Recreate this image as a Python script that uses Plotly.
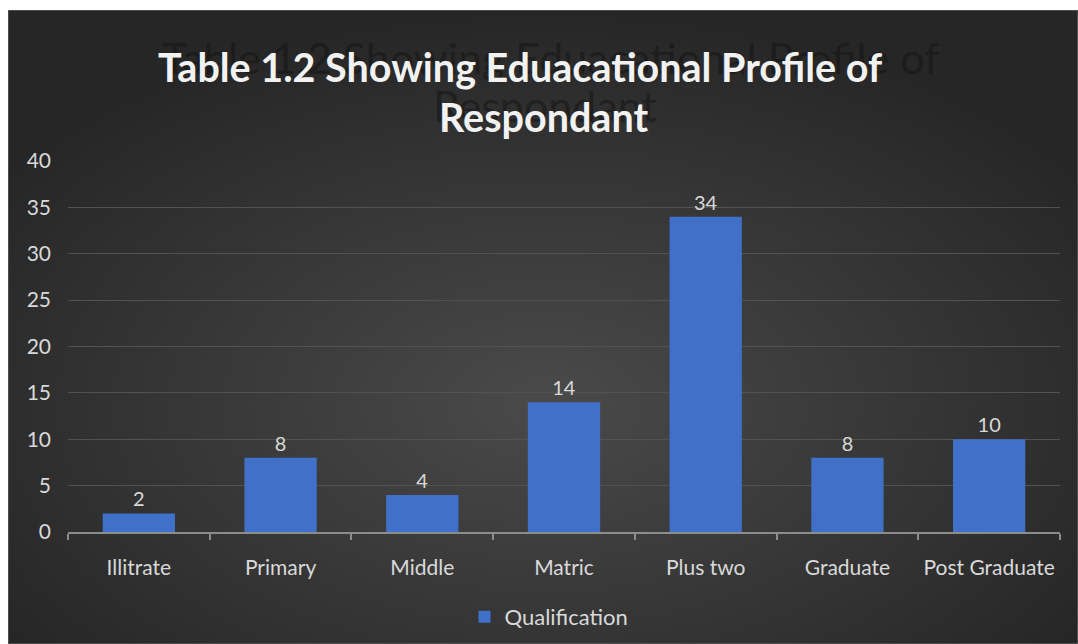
import base64
import plotly.graph_objects as go

categories = ["Illitrate", "Primary", "Middle", "Matric", "Plus two", "Graduate", "Post Graduate"]
counts = [2, 8, 4, 14, 34, 8, 10]
series_name = "Qualification"
title_lines = ["Table 1.2 Showing Eduacational Profile of", "Respondant"]
y_ticks = [0, 5, 10, 15, 20, 25, 30, 35, 40]

W, H = 1078, 644
ML, MR, MT, MB = 68, 18, 161, 112
PW, PH = W - ML - MR, H - MT - MB
FONT = "Lato, 'Open Sans', sans-serif"
LABEL = "#d9d9d9"


def px_x(p):
    return (p - ML) / PW


def px_y(p):
    return (H - MB - p) / PH


# dark radial-gradient chart panel, as an svg image behind everything
svg = """<svg xmlns='http://www.w3.org/2000/svg' width='1070' height='634'>
<defs><radialGradient id='g' cx='50%' cy='62%' r='62%'>
<stop offset='0' stop-color='#4a4a4a'/><stop offset='1' stop-color='#262626'/>
</radialGradient></defs>
<rect x='0' y='0' width='1070' height='634' fill='url(#g)' stroke='#5a5a5a' stroke-width='1.5'/>
</svg>"""
bg = "data:image/svg+xml;base64," + base64.b64encode(svg.encode()).decode()

fig = go.Figure(go.Bar(
    x=categories, y=counts, name=series_name,
    marker=dict(color="#4170c9", line=dict(width=0)),
    width=0.51,
    text=counts, textposition="outside", cliponaxis=False,
    textfont=dict(family=FONT, size=20, color=LABEL),
))

fig.add_layout_image(dict(
    source=bg, xref="paper", yref="paper",
    x=px_x(8), y=px_y(10), sizex=(W - 8) / PW, sizey=(H - 10) / PH,
    xanchor="left", yanchor="top", sizing="stretch", layer="below",
))

# faint shadow copy of the title seen in the original, then the title itself
for line, (cx, cy) in zip(title_lines, [(550, 58), (545, 106)]):
    fig.add_annotation(
        text=line, x=px_x(cx), y=px_y(cy), xref="paper", yref="paper",
        showarrow=False, xanchor="center", yanchor="middle",
        font=dict(family=FONT, size=43, color="rgba(18,18,18,0.5)"),
    )
for line, (cx, cy) in zip(title_lines, [(520, 66), (543, 117)]):
    fig.add_annotation(
        text=f"<b>{line}</b>", x=px_x(cx), y=px_y(cy), xref="paper", yref="paper",
        showarrow=False, xanchor="center", yanchor="middle",
        font=dict(family=FONT, size=39.5, color="#f2f2f2"),
    )

fig.update_layout(
    width=W, height=H,
    margin=dict(l=ML, r=MR, t=MT, b=MB, autoexpand=False),
    paper_bgcolor="white", plot_bgcolor="rgba(0,0,0,0)",
    font=dict(family=FONT, size=20, color=LABEL),
    showlegend=True,
    legend=dict(orientation="h", x=px_x(549), y=px_y(617), xanchor="center", yanchor="middle",
                font=dict(family=FONT, size=22, color=LABEL), bgcolor="rgba(0,0,0,0)",
                itemwidth=30),
    bargap=0.49,
)
fig.update_xaxes(
    showline=True, linecolor="#8c8c8c", linewidth=1.5,
    ticks="outside", tickson="boundaries", ticklen=6, tickcolor="#8c8c8c", tickwidth=1.5,
    tickfont=dict(family=FONT, size=21, color=LABEL), ticklabelstandoff=16,
    tickangle=0, automargin=False, showgrid=False, zeroline=False,
)
fig.update_yaxes(
    range=[0, 40], tickvals=y_ticks, showline=False, automargin=False,
    showgrid=True, gridcolor="#525252", gridwidth=1, zeroline=False,
    tickfont=dict(family=FONT, size=21, color=LABEL), ticklabelstandoff=16,
)

fig.write_html("out.html", config={"displayModeBar": False},
               post_script="document.body.style.margin='0';")
